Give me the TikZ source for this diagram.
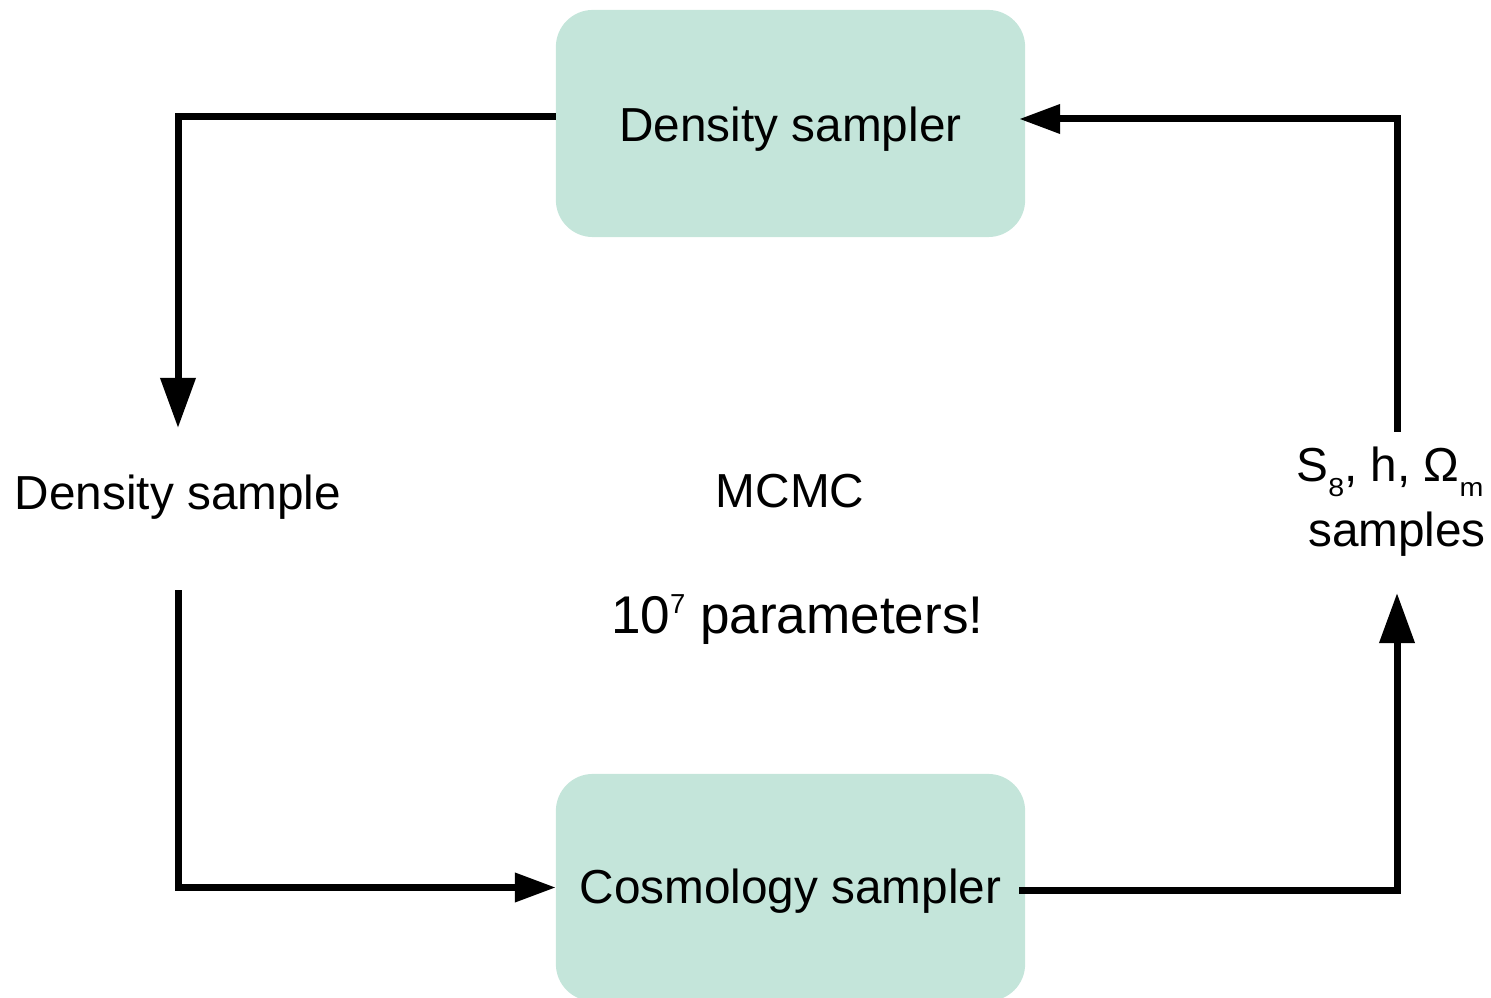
\documentclass[tikz,border=0pt]{standalone}
\usepackage{fontspec}
\setmainfont{Liberation Sans}
\usetikzlibrary{arrows.meta,calc}
\definecolor{boxfill}{HTML}{C4E5DA}
\newcommand\fmain{\fontsize{13.57pt}{16pt}\selectfont}
\newcommand\fbig{\fontsize{15.1pt}{18pt}\selectfont}
\newcommand\mysub[1]{\raisebox{-4.3pt}{\scalebox{1.1}[1]{\fontsize{7.4pt}{8pt}\selectfont #1}}}
\newcommand\mysup[1]{\raisebox{5.5pt}{\fontsize{7.8pt}{8pt}\selectfont #1}}
\begin{document}
\begin{tikzpicture}[x=0.01cm,y=-0.01cm,
  every node/.style={inner sep=0pt,outer sep=0pt,text=black},
  sampbox/.style={fill=boxfill,rounded corners=0.37cm,minimum width=4.69cm,minimum height=2.27cm,font=\fmain},
  lbl/.style={font=\fmain},
  conn/.style={line width=0.07cm,draw=black},
  vtip/.style={-{Triangle[length=0.5cm,width=0.34cm]}},
  htip/.style={-{Triangle[length=0.41cm,width=0.28cm]}}]
\useasboundingbox (0,0) rectangle (1491,998);
% boxes
\node[sampbox,text height=0.47cm,text depth=0.10cm] (dens) at (790.5,123.5) {Density sampler};
\node[sampbox,text height=0.44cm,text depth=0.13cm] (cosmo) at (790.5,887.5) {Cosmology sampler};
% side labels
\node[lbl,minimum height=1.62cm,text height=0.36cm,text depth=0.34cm] (dsample) at (178,509) {Density sample};
\node[lbl,anchor=base,text height=0.497cm,text depth=0.1cm] (thetaA) at (1390,481.7) {S\mysub{8}, h, Ω\mysub{m}};
\node[lbl,anchor=base,text height=0.35cm,text depth=0.463cm] (thetaB) at (1397,546.7) {samples};
% centre texts
\node[lbl,anchor=base] (mcmc) at (790,507.7) {MCMC};
\node[font=\fbig,anchor=base west] (npar) at (611,633.3) {10\mysup{7} parameters!};
% connectors
\draw[conn,vtip] ($(dens.west)+(0,-6.8)$) -| (dsample.north);
\draw[conn,htip] (dsample.south) |- (cosmo.west);
\draw[conn,vtip] ($(cosmo.east)+(-6,3)$) -| (thetaB.south);
\draw[conn,htip] ($(thetaA.north)+(7,0)$) |- ($(dens.east)+(-6,-4.5)$);
\end{tikzpicture}
\end{document}
